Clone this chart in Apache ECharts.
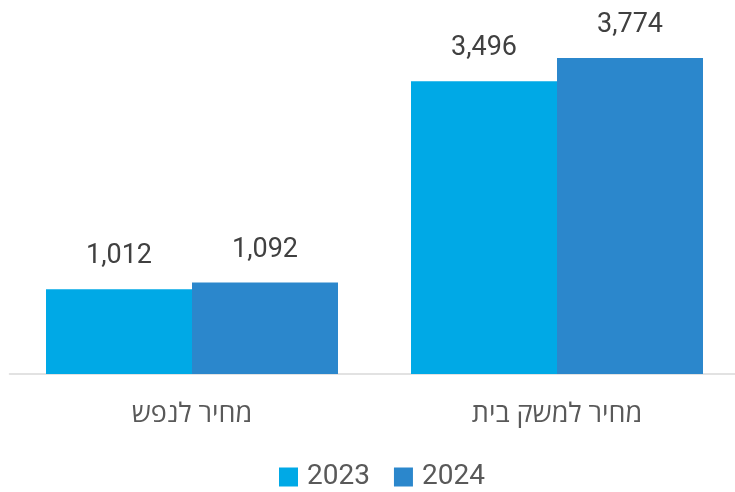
<!DOCTYPE html>
<html>
<head>
<meta charset="utf-8">
<script src="https://cdn.jsdelivr.net/npm/echarts@6/dist/echarts.min.js"></script>
<style>
    html, body { margin: 0; padding: 0; background: #fff; }
    #chart { width: 735px; height: 492px; }
</style>
</head>
<body>
<div id="chart"></div>
<script>
    var categories = ['מחיר לנפש', 'מחיר למשק בית'];
    var seriesNames = ['2023', '2024'];
    var values2023 = [1012, 3496];
    var values2024 = [1092, 3774];

    var font = 'Roboto, "Open Sans", "Noto Sans", sans-serif';

    var chart = echarts.init(document.getElementById('chart'));

    function fmt(p) {
        return p.value.toLocaleString('en-US');
    }

    var option = {
        animation: false,
        color: ['#00A9E6', '#2B87CC'],
        grid: {
            left: 9.5,
            top: 39,
            width: 730,
            bottom: 118,
            outerBoundsMode: 'none'
        },
        legend: {
            data: seriesNames,
            left: 279,
            top: 463,
            padding: 0,
            icon: 'rect',
            itemWidth: 19,
            itemHeight: 19,
            itemGap: 24,
            textStyle: {
                fontFamily: font,
                fontSize: 28,
                color: '#595959',
                padding: [0, 0, 8, 4]
            }
        },
        xAxis: {
            type: 'category',
            data: categories,
            axisLine: { lineStyle: { color: '#D9D9D9', width: 1.5 } },
            axisTick: { show: false },
            axisLabel: {
                margin: 27,
                fontFamily: '"Open Sans", Roboto, sans-serif',
                fontSize: 27,
                color: '#595959'
            }
        },
        yAxis: {
            type: 'value',
            min: 0,
            max: 4000,
            show: false,
            splitLine: { show: false }
        },
        series: [
            {
                name: seriesNames[0],
                type: 'bar',
                data: values2023,
                barGap: '0%',
                barCategoryGap: '20%',
                label: {
                    show: true,
                    position: 'top',
                    distance: 19,
                    formatter: fmt,
                    fontFamily: font,
                    fontSize: 27,
                    color: '#404040'
                }
            },
            {
                name: seriesNames[1],
                type: 'bar',
                data: values2024,
                barGap: '0%',
                barCategoryGap: '20%',
                label: {
                    show: true,
                    position: 'top',
                    distance: 19,
                    formatter: fmt,
                    fontFamily: font,
                    fontSize: 27,
                    color: '#404040'
                }
            }
        ]
    };

    chart.setOption(option);
</script>
</body>
</html>
